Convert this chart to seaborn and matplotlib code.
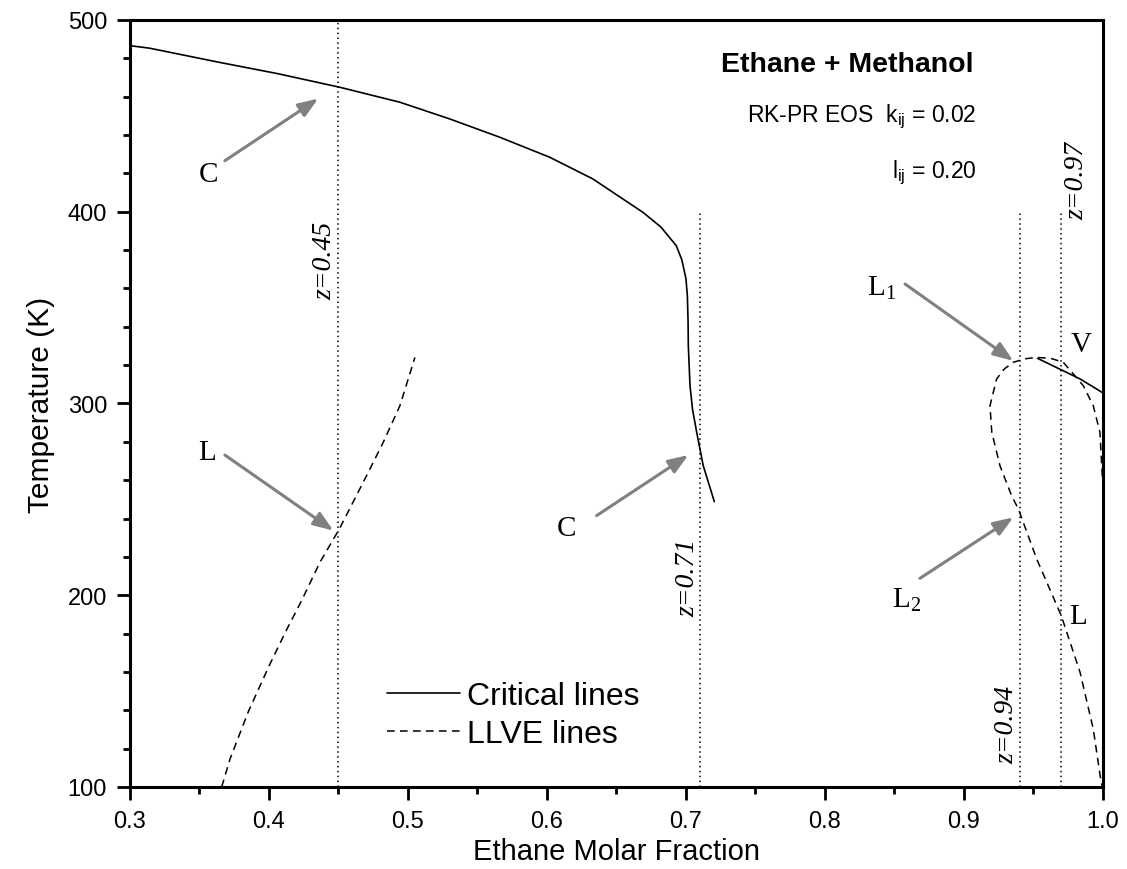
import numpy as np
import pandas as pd
import matplotlib
matplotlib.use("Agg")
import matplotlib.pyplot as plt
import seaborn as sns
from matplotlib.ticker import MultipleLocator, FormatStrFormatter

# === Data ===
# critical line (methanol side)
crit1_x = [0.300, 0.314, 0.365, 0.4063, 0.451, 0.4942, 0.530, 0.5662, 0.602, 0.633,
           0.669, 0.682, 0.693, 0.697, 0.700, 0.701, 0.7015, 0.7017, 0.7029, 0.7047,
           0.7077, 0.7124, 0.7204]
crit1_T = [486.6, 485.3, 477.8, 472.0, 464.9, 457.1, 448.4, 438.8, 428.4, 417.1,
           399.7, 392.0, 382.3, 375.0, 365.0, 356.2, 343.0, 330.0, 309.3, 297.0,
           285.0, 267.6, 248.8]

# critical line (ethane side)
crit2_x = [0.953, 0.9835, 1.000]
crit2_T = [323.5, 312.8, 305.5]

# LLVE line (left)
llve1_x = [0.366, 0.372, 0.385, 0.400, 0.412, 0.4235, 0.4367, 0.4506, 0.4702,
           0.4822, 0.4942, 0.505]
llve1_T = [100.0, 114.6, 139.0, 163.0, 181.0, 197.2, 217.2, 234.5, 262.3,
           279.7, 298.8, 324.0]

# LLVE loop (right)
llve2_x = [0.9995, 0.9978, 0.993, 0.9858, 0.9714, 0.962, 0.952, 0.944, 0.9355,
           0.929, 0.9235, 0.9187, 0.920, 0.9259, 0.9343, 0.9391, 0.9523, 0.970,
           0.9835, 0.993, 0.9983, 0.9995]
llve2_T = [262.0, 285.0, 298.8, 309.3, 321.5, 323.6, 324.0, 323.3, 321.5,
           318.0, 312.8, 298.8, 285.0, 267.5, 251.8, 245.0, 218.9, 189.3,
           159.8, 130.2, 104.2, 100.0]

# global compositions (dotted lines)
z_vals = [0.45, 0.71, 0.94, 0.97]
z_top = [500, 400, 400, 400]
z_labels = ["z=0.45", "z=0.71", "z=0.94", "z=0.97"]
z_label_x = [0.4403, 0.7014, 0.9307, 0.9813]
z_label_T = [375.0, 209.5, 133.0, 416.6]

# arrow annotations: label, text pos, arrow tail, arrow tip
arrow_labels = ["C", "L", "C", "L$\\mathregular{_1}$", "L$\\mathregular{_2}$"]
arrow_text_x = [0.3563, 0.3552, 0.6144, 0.8408, 0.8588]
arrow_text_T = [419.7, 274.5, 235.0, 360.6, 198.0]
arrow_tail_x = [0.3683, 0.3683, 0.6357, 0.8576, 0.8683]
arrow_tail_T = [426.6, 273.1, 241.5, 362.3, 208.8]
arrow_tip_x = [0.4355, 0.4463, 0.7017, 0.9355, 0.9355]
arrow_tip_T = [459.0, 233.7, 273.1, 322.2, 240.6]

plain_labels = ["V", "L"]
plain_x = [0.9846, 0.9822]
plain_T = [331.0, 189.3]

# === Style ===
sns.set_style("ticks")
plt.rcParams['font.family'] = ['Liberation Sans', 'DejaVu Sans']
plt.rcParams['axes.linewidth'] = 2.2
plt.rcParams['axes.edgecolor'] = 'black'
plt.rcParams['xtick.color'] = 'black'
plt.rcParams['ytick.color'] = 'black'
plt.rcParams['text.color'] = 'black'
plt.rcParams['axes.labelcolor'] = 'black'

fig = plt.figure(figsize=(11.27, 8.70), dpi=100)
ax = fig.add_axes([0.1153, 0.0943, 0.8634, 0.8816])

dash = (0, (5, 3.5))
serif = ["Liberation Serif", "DejaVu Serif"]

crit1 = pd.DataFrame({"x": crit1_x, "T": crit1_T})
crit2 = pd.DataFrame({"x": crit2_x, "T": crit2_T})
llve1 = pd.DataFrame({"x": llve1_x, "T": llve1_T})
llve2 = pd.DataFrame({"x": llve2_x, "T": llve2_T})

sns.lineplot(data=crit1, x="x", y="T", sort=False, estimator=None, color="black",
             lw=1.2, ax=ax, label="Critical lines")
sns.lineplot(data=crit2, x="x", y="T", sort=False, estimator=None, color="black",
             lw=1.2, ax=ax)
sns.lineplot(data=llve1, x="x", y="T", sort=False, estimator=None, color="black",
             lw=1.1, linestyle=dash, ax=ax, label="LLVE lines")
sns.lineplot(data=llve2, x="x", y="T", sort=False, estimator=None, color="black",
             lw=1.1, linestyle=dash, ax=ax, clip_on=False)

# dotted vertical lines
ax.vlines(z_vals, 100, z_top, colors="black", linestyles=(0, (1, 2.2)), lw=1.1)
for lab, lx, lT in zip(z_labels, z_label_x, z_label_T):
    ax.text(lx, lT, lab, rotation=90, ha="center", va="center", fontsize=20,
            style="italic", family=serif)

# arrows
for lab, tx, tT, ax0, aT0, ax1, aT1 in zip(arrow_labels, arrow_text_x, arrow_text_T,
                                          arrow_tail_x, arrow_tail_T,
                                          arrow_tip_x, arrow_tip_T):
    ax.annotate("", xy=(ax1, aT1), xytext=(ax0, aT0),
                arrowprops=dict(arrowstyle="-|>,head_length=0.8,head_width=0.3",
                                color="#808080", lw=2.2, shrinkA=0, shrinkB=0,
                                mutation_scale=15))
    ax.text(tx, tT, lab, ha="center", va="center", fontsize=21, family=serif)

for lab, px, pT in zip(plain_labels, plain_x, plain_T):
    ax.text(px, pT, lab, ha="center", va="center", fontsize=21, family=serif)

# header text
ax.text(0.9065, 477, "Ethane + Methanol", ha="right", va="center", fontsize=20.5,
        fontweight="bold")
ax.text(0.909, 450, "RK-PR EOS  k$\\mathregular{_{ij}}$ = 0.02", ha="right",
        va="center", fontsize=16.5)
ax.text(0.909, 420.7, "l$\\mathregular{_{ij}}$ = 0.20", ha="right",
        va="center", fontsize=16.5)

# axes
ax.set_xlim(0.3, 1.0)
ax.set_ylim(100, 500)
ax.xaxis.set_major_locator(MultipleLocator(0.1))
ax.xaxis.set_minor_locator(MultipleLocator(0.05))
ax.xaxis.set_major_formatter(FormatStrFormatter("%.1f"))
ax.yaxis.set_major_locator(MultipleLocator(100))
ax.yaxis.set_minor_locator(MultipleLocator(20))
ax.tick_params(which="major", length=9.5, width=2.0, labelsize=17, pad=7)
ax.tick_params(which="minor", length=5, width=2.0)
for side in ["top", "right"]:
    ax.spines[side].set_visible(True)
ax.set_xlabel("Ethane Molar Fraction", fontsize=21, labelpad=4)
ax.set_ylabel("Temperature (K)", fontsize=21.5, labelpad=9)

ax.legend(loc="center left", bbox_to_anchor=(0.264, 0.094), frameon=False,
          fontsize=23, handlelength=2.28, handletextpad=0.22, borderpad=0,
          borderaxespad=0, labelspacing=0.25)

fig.savefig("out.png", dpi=100)
